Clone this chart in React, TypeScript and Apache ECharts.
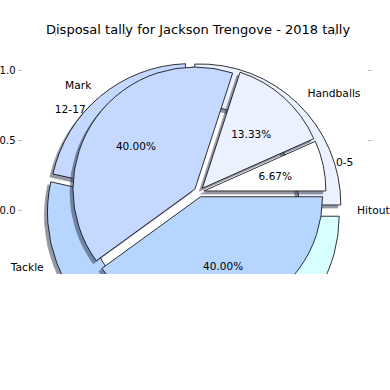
import React, { useEffect, useRef } from "react";
import * as echarts from "echarts";

const titleText = "Disposal tally for Jackson Trengove - 2018 tally";
const outerNames = ["Hitout", "Handballs", "Mark", "Tackle", "Kick"];
const outerValues = [0, 11, 9, 8, 15];
const outerColors = ["#e0ffff", "#ebf1ff", "#c5d8ff", "#b7d6ff", "#d8ffff"];
const innerNames = ["0-5", "6-11", "12-17", "18-23"];
const innerValues = [1, 2, 6, 6];
const innerColors = ["#ffffff", "#ebf1ff", "#c5d8ff", "#b7d6ff"];
const hiddenOuterLabels = ["Kick"];
const hiddenInnerLabels = ["18-23"];
// tick ranges (axis units) and step
const xTickRange = [-1, 1];
const yTickRange = [0, 1];
const yRightTickRange = [0.5, 1];
const tickStep = 0.5;

const FONT = "DejaVu Sans";

export default function App() {
  const ref = useRef<HTMLDivElement>(null);
  useEffect(() => {
    if (!ref.current) return;
    const chart = echarts.init(ref.current, undefined, { renderer: "svg" });
    const tickStyle = { color: "#b8b8b8", width: 1 };
    const shadow = {
      shadowColor: "rgba(40,50,70,0.5)",
      shadowBlur: 1,
      shadowOffsetX: -3,
      shadowOffsetY: 3,
    };
    const wedgeStyle = { borderColor: "#000", borderWidth: 0.8, ...shadow };
    const tickAxis = {
      type: "value" as const,
      interval: tickStep,
      axisLine: { show: true, onZero: false, lineStyle: { color: "#ffffff", width: 1 } },
      splitLine: { show: false },
      axisTick: { show: true, inside: false, length: 3.5, lineStyle: tickStyle },
    };
    const labelCommon = {
      show: true,
      position: "outside",
      alignTo: "none",
      formatter: "{b}",
      fontSize: 10.7,
      color: "#000",
      fontFamily: FONT,
      distanceToLabelLine: 0,
    };
    chart.setOption({
      animation: false,
      title: {
        text: titleText,
        left: 46,
        top: 23,
        padding: 0,
        z: 10,
        textStyle: { fontSize: 13, fontWeight: "normal", color: "#000", fontFamily: FONT },
      },
      grid: [
        { left: 55, top: 70, width: 280, height: 140, show: false, outerBoundsMode: "none", containLabel: false },
        { left: 55, top: 70, width: 280, height: 70, show: false, outerBoundsMode: "none", containLabel: false },
      ],
      xAxis: [
        {
          ...tickAxis,
          gridIndex: 0,
          position: "top",
          offset: 34,
          min: xTickRange[0],
          max: xTickRange[1],
          axisLabel: { show: false },
        },
        {
          ...tickAxis,
          gridIndex: 1,
          show: false,
          min: xTickRange[0],
          max: xTickRange[1],
        },
      ],
      yAxis: [
        {
          ...tickAxis,
          gridIndex: 0,
          position: "left",
          offset: 33,
          min: yTickRange[0],
          max: yTickRange[1],
          axisLabel: {
            show: true,
            formatter: (v: number) => v.toFixed(1),
            margin: 6.5,
            fontSize: 10,
            color: "#000",
            fontFamily: FONT,
          },
        },
        {
          ...tickAxis,
          gridIndex: 1,
          position: "right",
          offset: 33,
          min: yRightTickRange[0],
          max: yRightTickRange[1],
          axisLabel: { show: false },
        },
      ],
      series: [
        {
          type: "pie",
          center: [195, 210],
          radius: [99, 141],
          startAngle: 0,
          clockwise: false,
          avoidLabelOverlap: false,
          selectedMode: "multiple",
          selectedOffset: 7,
          silent: true,
          z: 2,
          emphasis: { disabled: true },
          itemStyle: wedgeStyle,
          select: { itemStyle: wedgeStyle },
          label: labelCommon,
          labelLine: { show: false, length: 14, length2: 0 },
          data: outerNames.map((n, i) => ({
            name: n,
            value: outerValues[i],
            selected: true,
            itemStyle: { color: outerColors[i] },
            label: hiddenOuterLabels.includes(n) ? { show: false } : undefined,
          })),
        },
        {
          type: "pie",
          center: [199, 192],
          radius: [0, 122],
          startAngle: 0,
          clockwise: false,
          avoidLabelOverlap: false,
          selectedMode: "multiple",
          selectedOffset: 5,
          silent: true,
          z: 3,
          emphasis: { disabled: true },
          itemStyle: wedgeStyle,
          select: { itemStyle: wedgeStyle },
          label: labelCommon,
          labelLine: { show: false, length: 13, length2: 0 },
          data: innerNames.map((n, i) => ({
            name: n,
            value: innerValues[i],
            selected: true,
            itemStyle: { color: innerColors[i] },
            label: hiddenInnerLabels.includes(n) ? { show: false } : undefined,
          })),
        },
        {
          type: "pie",
          center: [199, 192],
          radius: [46, 94],
          startAngle: 0,
          clockwise: false,
          avoidLabelOverlap: false,
          selectedMode: "multiple",
          selectedOffset: 5,
          silent: true,
          z: 4,
          emphasis: { disabled: true },
          itemStyle: { color: "rgba(0,0,0,0)", borderWidth: 0 },
          select: { itemStyle: { color: "rgba(0,0,0,0)", borderWidth: 0 } },
          label: {
            show: true,
            position: "inside",
            formatter: (p: any) => p.percent.toFixed(2) + "%",
            fontSize: 10.5,
            color: "#000",
            fontFamily: FONT,
          },
          labelLine: { show: false },
          percentPrecision: 4,
          data: innerNames.map((n, i) => ({
            name: n,
            value: innerValues[i],
            selected: true,
          })),
        },
      ],
      graphic: [
        {
          type: "rect",
          z: 100,
          silent: true,
          shape: { x: 0, y: 274, width: 390, height: 116 },
          style: { fill: "#ffffff" },
        },
      ],
    });
    return () => chart.dispose();
  }, []);
  return (
    <div
      ref={ref}
      style={{ position: "absolute", left: 0, top: 0, width: 390, height: 390, background: "#fff" }}
    />
  );
}
